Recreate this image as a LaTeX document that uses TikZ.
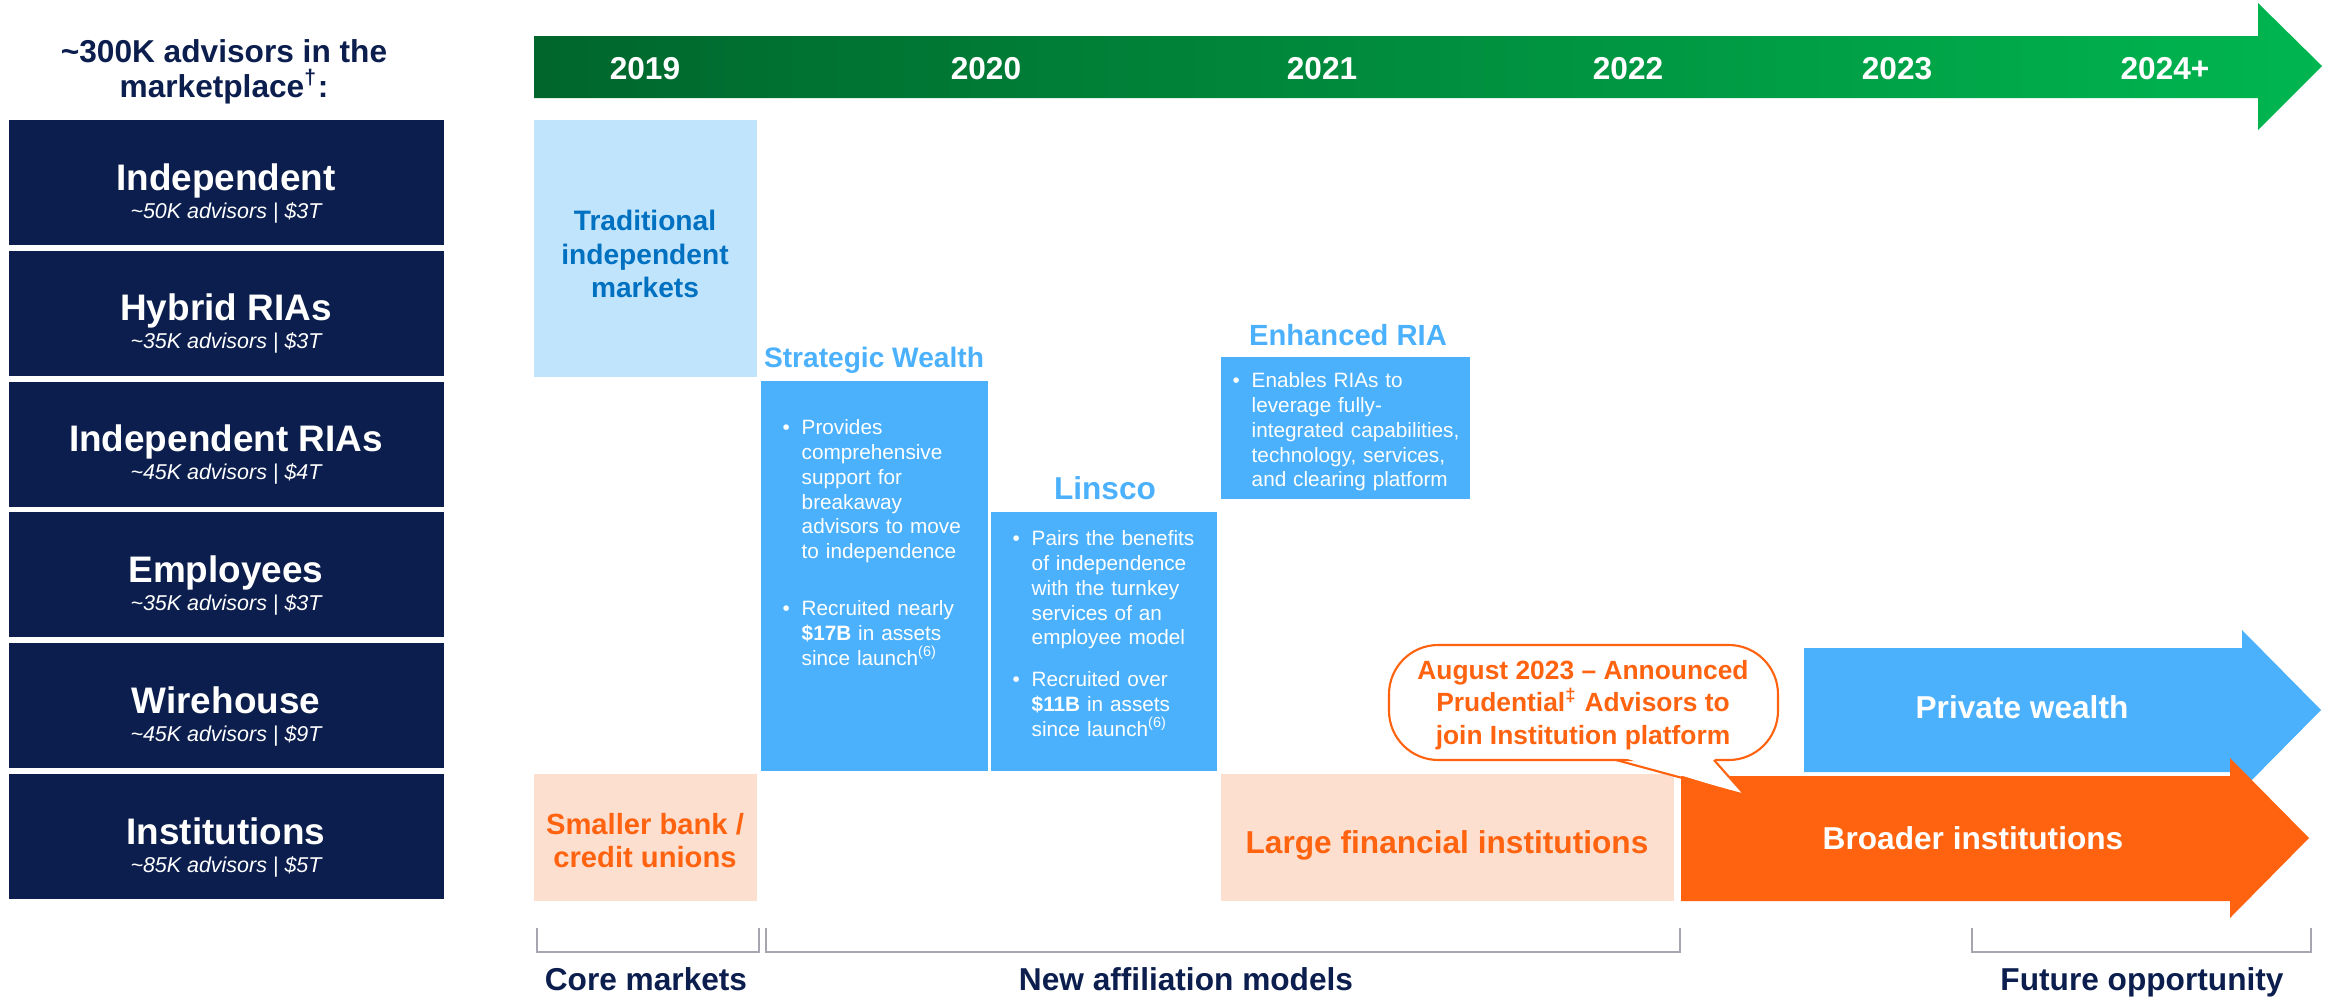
\documentclass[tikz,border=0pt]{standalone}
\usepackage{fontspec}
\setmainfont{Liberation Sans}
\usetikzlibrary{calc}

\definecolor{navy}{RGB}{11,30,77}
\definecolor{gdark}{RGB}{0,102,44}
\definecolor{glight}{RGB}{0,182,80}
\definecolor{paleblue}{RGB}{193,228,253}
\definecolor{tradblue}{RGB}{0,112,192}
\definecolor{midblue}{RGB}{75,177,253}
\definecolor{peach}{RGB}{253,223,207}
\definecolor{orng}{RGB}{255,99,16}
\definecolor{brgray}{RGB}{166,166,176}

% bullet paragraph with hanging indent
\newcommand{\bpt}[1]{\hangindent=0.19cm\hangafter=1\noindent\makebox[0.19cm][l]{\textbullet}#1\par}

\tikzset{
  rowbox/.style={fill=navy},
  rowmain/.style={text=white, font=\fontsize{10.5}{12}\selectfont\bfseries, anchor=base},
  rowsub/.style={text=white, font=\fontsize{6.1}{7}\selectfont\itshape, anchor=base},
  yearlbl/.style={text=white, font=\fontsize{9}{10}\selectfont\bfseries, anchor=base},
  coltitle/.style={text=midblue, anchor=base},
  bodytxt/.style={text=white, font=\fontsize{5.9}{7.05}\selectfont, align=left, anchor=north west, inner sep=0pt},
  bigtxt/.style={font=\fontsize{9}{10.5}\selectfont\bfseries, anchor=base},
  bracket/.style={draw=brgray, line width=0.6pt},
}

\begin{document}
\begin{tikzpicture}[x=0.01cm, y=-0.01cm]
		\useasboundingbox (0,0) rectangle (2326,1000);
		%%%%% LEFT COLUMN %%%%%
		\node[font=\fontsize{9}{10}\selectfont\bfseries, text=navy, align=center] (mktitle) at (224,72) {\textasciitilde300K advisors in the\\marketplace\textsuperscript{†}:};
		
		\foreach \rname/\rsub [count=\i from 0] in {Independent/{\textasciitilde50K advisors | \$3T}, Hybrid RIAs/{\textasciitilde35K advisors | \$3T}, Independent RIAs/{\textasciitilde45K advisors | \$4T}, Employees/{\textasciitilde35K advisors | \$3T}, Wirehouse/{\textasciitilde45K advisors | \$9T}, Institutions/{\textasciitilde85K advisors | \$5T}} {
			\pgfmathsetmacro{\rtop}{120+130.8*\i}
			\fill[rowbox] (9,\rtop) rectangle (444,\rtop+125);
			\node[rowmain] (row\i) at (226,\rtop+70) {\rname};
			\node[rowsub] (rowsub\i) at (226,\rtop+98) {\rsub};
		}
		
		%%%%% TIMELINE %%%%%
		\shade[left color=gdark, right color=glight] (534,36) -- (2258,36) -- (2258,3) -- (2322,66) -- (2258,130) -- (2258,98) -- (534,98) -- cycle;
		\foreach \yr/\xx [count=\i] in {2019/645, 2020/986, 2021/1322, 2022/1628, 2023/1897, 2024+/2165}
			\node[yearlbl] (year\i) at (\xx,80) {\yr};
		
		%%%%% CORE MARKETS %%%%%
		\fill[paleblue] (534,120) rectangle (757,377);
		\node[text=tradblue, font=\fontsize{8}{9.5}\selectfont\bfseries, align=center] (trad) at (645,254) {Traditional\\independent\\markets};
		
		\fill[peach] (534,774) rectangle (757,901);
		\node[text=orng, font=\fontsize{8.3}{9.4}\selectfont\bfseries, align=center] (smallbank) at (645,841) {Smaller bank /\\credit unions};
		
		%%%%% NEW AFFILIATION MODELS %%%%%
		\node[coltitle, font=\fontsize{8}{9}\selectfont\bfseries] (swtitle) at (874,367) {Strategic Wealth};
		\fill[midblue] (761,381) rectangle (988,771);
		\node[bodytxt, text width=2.03cm] (swtext) at (782,419) {\bpt{Provides\newline comprehensive\newline support for\newline breakaway\newline advisors to move\newline to independence}\vspace{0.32cm}\bpt{Recruited nearly\newline \textbf{\$17B} in assets\newline since launch\textsuperscript{(6)}}};
		
		\node[coltitle, font=\fontsize{9}{10}\selectfont\bfseries] (lntitle) at (1105,499) {Linsco};
		\fill[midblue] (991,512) rectangle (1217,771);
		\node[bodytxt, text width=2.02cm] (lntext) at (1012,530) {\bpt{Pairs the benefits\newline of independence\newline with the turnkey\newline services of an\newline employee model}\vspace{0.17cm}\bpt{Recruited over\newline \textbf{\$11B} in assets\newline since launch\textsuperscript{(6)}}};
		
		\node[coltitle, font=\fontsize{8.3}{9.5}\selectfont\bfseries] (eritle) at (1348,345) {Enhanced RIA};
		\fill[midblue] (1221,357) rectangle (1470,499);
		\node[bodytxt, text width=2.36cm] (ertext) at (1232,372) {\bpt{Enables RIAs to\newline leverage fully-\newline integrated capabilities,\newline technology, services,\newline and clearing platform}};
		
		\fill[peach] (1221,774) rectangle (1674,901);
		\node[bigtxt, text=orng] (largefin) at (1447,853) {Large financial institutions};
		
		%%%%% FUTURE OPPORTUNITY %%%%%
		\fill[midblue] (1804,648) -- (2242,648) -- (2242,630) -- (2321,710) -- (2242,790) -- (2242,772) -- (1804,772) -- cycle;
		\node[bigtxt, text=white] (privwealth) at (2022,718) {Private wealth};
		
		\fill[orng] (1681,776) -- (2230,776) -- (2230,758) -- (2309,838) -- (2230,918) -- (2230,901) -- (1681,901) -- cycle;
		\node[bigtxt, text=white] (broader) at (1973,849) {Broader institutions};
		
		% callout
		\draw[draw=orng, fill=white, line width=0.6pt, rounded corners=14] (1389,645) rectangle (1778,760);
		\fill[white] (1618,756) -- (1712,756) -- (1745,795) -- cycle;
		\draw[draw=orng, line width=0.6pt, line join=miter] (1616,760) -- (1745,795) -- (1714,760);
		\node[text=orng, font=\fontsize{7.5}{9.25}\selectfont\bfseries, align=center] (callout) at (1583,705) {August 2023 – Announced\\Prudential\textsuperscript{‡} Advisors to\\join Institution platform};
		
		%%%%% BRACKETS %%%%%
		\draw[bracket] (537,928) -- (537,952) -- (759,952) -- (759,928);
		\draw[bracket] (766,928) -- (766,952) -- (1680,952) -- (1680,928);
		\draw[bracket] (1972,928) -- (1972,952) -- (2311,952) -- (2311,928);
		\node[bigtxt, text=navy] (coremkt) at (646,990) {Core markets};
		\node[bigtxt, text=navy] (newaff) at (1186,990) {New affiliation models};
		\node[bigtxt, text=navy] (future) at (2142,990) {Future opportunity};
		%%%%% END %%%%%
	\end{tikzpicture}
\end{document}
